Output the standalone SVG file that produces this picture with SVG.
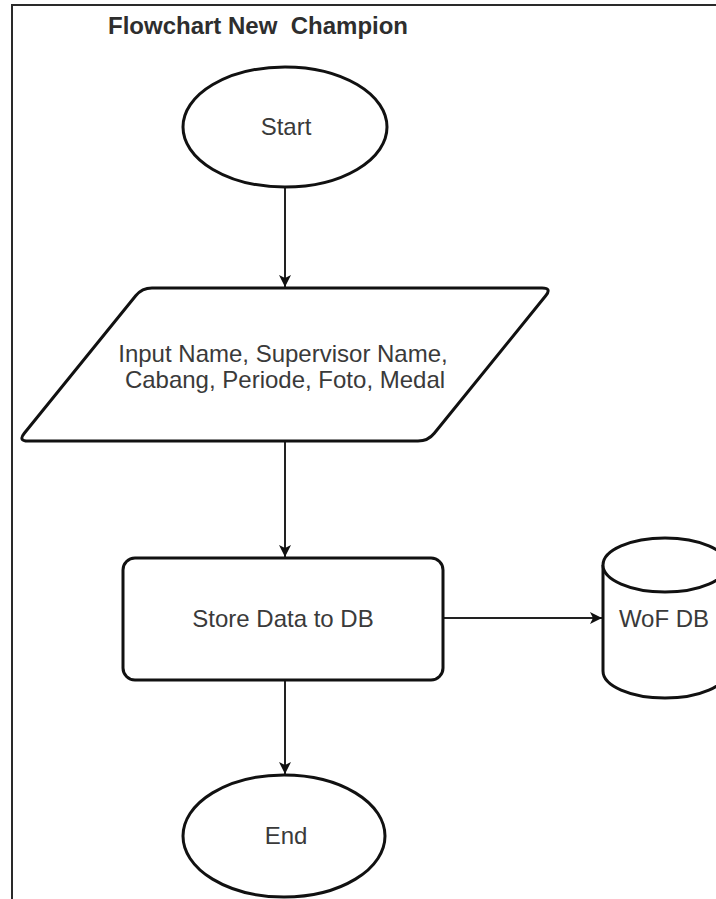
<svg xmlns="http://www.w3.org/2000/svg" width="716" height="899" viewBox="0 0 716 899">
  <defs>
    <marker id="arrow" markerUnits="userSpaceOnUse" markerWidth="14" markerHeight="14" viewBox="0 0 14 14" refX="13" refY="7" orient="auto">
      <path d="M1,1 L13,7 L1,13 L4,7 Z" fill="#111"/>
    </marker>
    <style>
      .frame { fill: none; stroke: #2a2a2a; stroke-width: 2; }
      .title { font-family: "Liberation Sans", Arial, sans-serif; font-size: 24px; font-weight: bold; fill: #2e2e2e; }
      .shape { fill: #ffffff; stroke: #111; stroke-width: 3; }
      .label { font-family: "Liberation Sans", Arial, sans-serif; font-size: 24px; fill: #3a3a3a; text-anchor: middle; }
      .edge { fill: none; stroke: #222; stroke-width: 2; marker-end: url(#arrow); }
    </style>
  </defs>

  <rect width="716" height="899" fill="#ffffff"/>

  <!-- page frame: top and left edges -->
  <path class="frame" d="M12,899 L12,5 L716,5"/>

  <text class="title" x="108" y="34" xml:space="preserve">Flowchart New  Champion</text>

  <g id="connectors">
    <path class="edge" d="M285,187 L285,287"/>
    <path class="edge" d="M285,441 L285,557"/>
    <path class="edge" d="M443,618 L602,618"/>
    <path class="edge" d="M285,680 L285,774"/>
  </g>

  <g id="start">
    <ellipse class="shape" cx="285" cy="127" rx="102" ry="60"/>
    <text class="label" x="286" y="135">Start</text>
  </g>

  <g id="input">
    <path class="shape" d="M152,288 L542,288 Q552,288 545.7,295.8 L434.3,433.2 Q428,441 418,441 L28,441 Q18,441 24.3,433.2 L135.7,295.8 Q142,288 152,288 Z"/>
    <text class="label" x="283" y="362">Input Name, Supervisor Name,</text>
    <text class="label" x="285" y="388">Cabang, Periode, Foto, Medal</text>
  </g>

  <g id="store">
    <rect class="shape" x="123" y="558" width="320" height="122" rx="12" ry="12"/>
    <text class="label" x="283" y="627">Store Data to DB</text>
  </g>

  <g id="wof-db">
    <path class="shape" d="M603,565 L603,671 A62,27 0 0 0 727,671 L727,565 A62,27 0 0 0 603,565 Z"/>
    <path class="shape" fill="none" d="M603,565 A62,27 0 0 0 727,565"/>
    <text class="label" x="664" y="627">WoF DB</text>
  </g>

  <g id="end">
    <ellipse class="shape" cx="284" cy="836" rx="101" ry="61"/>
    <text class="label" x="286" y="844">End</text>
  </g>
</svg>
